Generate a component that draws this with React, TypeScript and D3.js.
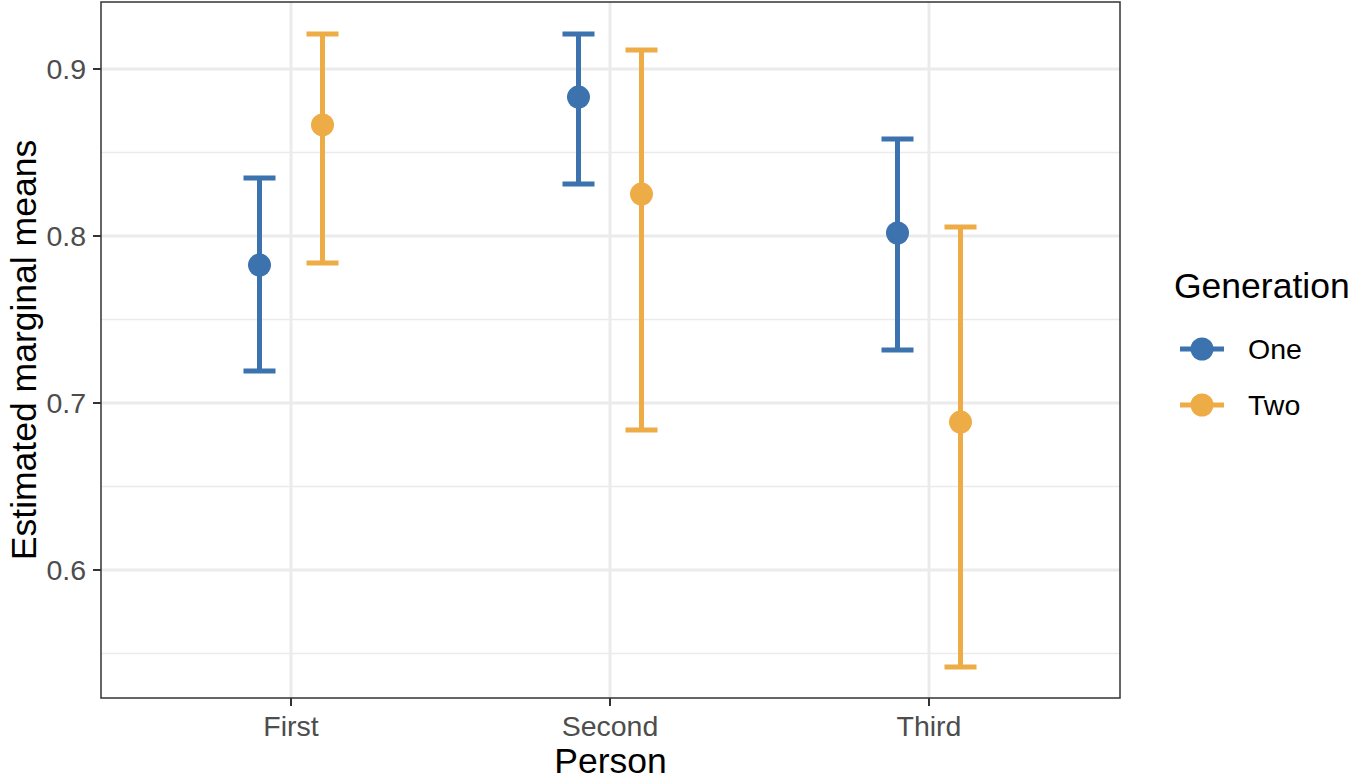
import React from "react";
import * as d3 from "d3";

const categories = ["First", "Second", "Third"];
const series = ["One", "Two"];
const colors = ["#3C72AE", "#EDAC45"];
const means = [
  [0.7826, 0.8832, 0.8018],
  [0.8665, 0.8251, 0.6886],
];
const lows = [
  [0.7192, 0.8311, 0.7317],
  [0.7838, 0.6838, 0.5419],
];
const highs = [
  [0.8347, 0.921, 0.8581],
  [0.921, 0.9114, 0.8054],
];
const yTicks = [0.6, 0.7, 0.8, 0.9];
const yMinor = [0.55, 0.65, 0.75, 0.85];

const W = 1350, H = 780;
const L = 101, R = 1120, T = 2, B = 698;

export default function App() {
  const x = d3.scalePoint<string>().domain(categories).range([291, 929]);
  const y = d3.scaleLinear().domain([0.6, 0.9]).range([570, 69]);
  const dodge = 31.5;
  const cap = 16;
  const font = "'Liberation Sans', Arial, Helvetica, sans-serif";
  const tickFs = 28.5;
  const titleFs = 35.5;
  return (
    <svg width={W} height={H} style={{ position: "absolute", left: 0, top: 0 }} fontFamily={font}>
      <rect x={0} y={0} width={W} height={H} fill="#fff" />
      {yMinor.map((v) => (
        <line key={"m" + v} x1={L} x2={R} y1={y(v)} y2={y(v)} stroke="#EBEBEB" strokeWidth={1.5} />
      ))}
      {yTicks.map((v) => (
        <line key={"g" + v} x1={L} x2={R} y1={y(v)} y2={y(v)} stroke="#EBEBEB" strokeWidth={3} />
      ))}
      {categories.map((c) => (
        <line key={"gx" + c} x1={x(c)} x2={x(c)} y1={T} y2={B} stroke="#EBEBEB" strokeWidth={3} />
      ))}
      {series.map((s, si) =>
        categories.map((c, ci) => {
          const cx = (x(c) as number) + (si === 0 ? -dodge : dodge);
          return (
            <g key={s + c} stroke={colors[si]} strokeWidth={5}>
              <line x1={cx} x2={cx} y1={y(lows[si][ci])} y2={y(highs[si][ci])} />
              <line x1={cx - cap} x2={cx + cap} y1={y(lows[si][ci])} y2={y(lows[si][ci])} />
              <line x1={cx - cap} x2={cx + cap} y1={y(highs[si][ci])} y2={y(highs[si][ci])} />
              <circle cx={cx} cy={y(means[si][ci])} r={11.5} fill={colors[si]} stroke="none" />
            </g>
          );
        })
      )}
      <rect x={L} y={T} width={R - L} height={B - T} fill="none" stroke="#333333" strokeWidth={1.5} />
      {yTicks.map((v) => (
        <g key={"t" + v}>
          <line x1={L - 8} x2={L} y1={y(v)} y2={y(v)} stroke="#333333" strokeWidth={2} />
          <text x={L - 15} y={y(v)} dy="0.36em" textAnchor="end" fontSize={tickFs} fill="#4D4D4D">
            {v.toFixed(1)}
          </text>
        </g>
      ))}
      {categories.map((c) => (
        <g key={"xt" + c}>
          <line x1={x(c)} x2={x(c)} y1={B} y2={B + 8} stroke="#333333" strokeWidth={2} />
          <text x={x(c)} y={B + 38} textAnchor="middle" fontSize={tickFs} fill="#4D4D4D">
            {c}
          </text>
        </g>
      ))}
      <text x={(L + R) / 2} y={773} textAnchor="middle" fontSize={titleFs} fill="#000">
        Person
      </text>
      <text
        transform={`translate(36, ${(T + B) / 2}) rotate(-90)`}
        textAnchor="middle"
        fontSize={titleFs}
        fill="#000"
      >
        Estimated marginal means
      </text>
      <text x={1174} y={298} fontSize={titleFs} fill="#000">
        Generation
      </text>
      {series.map((s, si) => {
        const ly = 349 + si * 56;
        return (
          <g key={"lg" + s}>
            <line x1={1180} x2={1224} y1={ly} y2={ly} stroke={colors[si]} strokeWidth={5} />
            <circle cx={1202} cy={ly} r={11.5} fill={colors[si]} />
            <text x={1248} y={ly} dy="0.36em" fontSize={tickFs} fill="#000">
              {s}
            </text>
          </g>
        );
      })}
    </svg>
  );
}
